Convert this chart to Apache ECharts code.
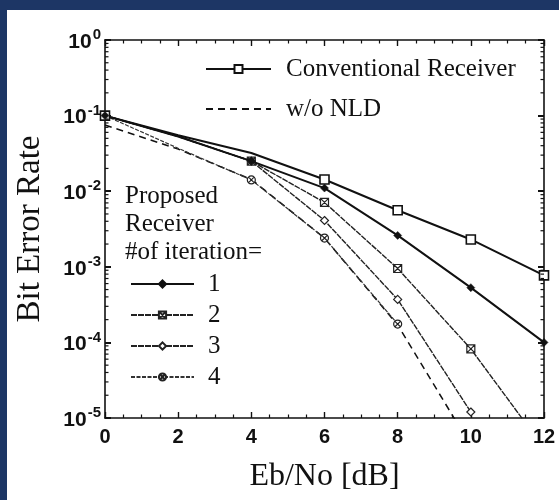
<!DOCTYPE html>
<html><head><meta charset="utf-8">
<script src="https://cdn.jsdelivr.net/npm/echarts@6/dist/echarts.min.js"></script>
<style>
html,body{margin:0;padding:0;width:559px;height:500px;overflow:hidden;background:#1d3665;}
#panel{position:absolute;left:7px;top:10px;width:552px;height:490px;background:#fff;}
#chart{position:absolute;left:0;top:0;width:559px;height:500px;}
</style></head><body>
<div id="panel"></div><div id="chart"></div>
<script>
// ---- data ----
const snrDb        = [0, 2, 4, 6, 8, 10, 12];
const conventional = [0.1, 0.055, 0.032, 0.0143, 0.0056, 0.0023, 0.00077];
const noNld        = [0.075, 0.036, 0.0143, 0.0024, 0.00017, 0.0000043, null];
const iter1        = [0.1, 0.053, 0.025, 0.011, 0.0026, 0.00053, 0.0001];
const iter2        = [0.1, 0.053, 0.025, 0.0071, 0.00095, 0.000082, 0.000004];
const iter3        = [0.1, 0.053, 0.025, 0.0041, 0.00037, 0.000012, null];
const iter4        = [0.1, 0.037, 0.0141, 0.0024, 0.000175, null, null];
const xTickLabels  = ['0', '2', '4', '6', '8', '10', '12'];
const yTickExponents = [0, -1, -2, -3, -4, -5];
const seriesNames  = ['Conventional Receiver', 'w/o NLD', '1', '2', '3', '4'];
const legendNote   = 'Proposed\nReceiver\n#of iteration=';
const xName = 'Eb/No [dB]';
const yName = 'Bit Error Rate';

const SERIF = '"Liberation Serif","Times New Roman",serif';
const SANS = '"Liberation Sans",Arial,sans-serif';
const INK = '#111';

function pts(arr, hideIdx) {
  const out = [];
  arr.forEach((v, i) => {
    if (v == null) return;
    if (hideIdx.indexOf(i) >= 0) out.push({value: [snrDb[i], v], symbol: 'none'});
    else out.push([snrDb[i], v]);
  });
  return out;
}

// log-distributed minor ticks (axis decoration)
const minorVals = [];
for (let e = -5; e < 0; e++) for (let k = 2; k <= 9; k++) minorVals.push(k * Math.pow(10, e));

const boxX = 'path://M0,0L10,0L10,10L0,10Z M0,0L10,10 M10,0L0,10';
const circX = 'path://M10,5A5,5,0,1,1,0,5A5,5,0,1,1,10,5Z M1.6,1.6L8.4,8.4 M8.4,1.6L1.6,8.4';

const axisLine = {show: true, onZero: false, lineStyle: {color: INK, width: 1.6}};

const chart = echarts.init(document.getElementById('chart'), null, {renderer: 'canvas'});
chart.setOption({
  animation: false,
  backgroundColor: 'transparent',
  grid: {left: 105, right: 15, top: 40, bottom: 82, containLabel: false, outerBoundsMode: 'none'},
  title: {
    text: legendNote, left: 125, top: 182, padding: 0,
    textStyle: {fontFamily: SERIF, fontSize: 25, fontWeight: 'normal', color: INK, lineHeight: 28}
  },
  legend: [
    {
      data: [seriesNames[0], seriesNames[1]], orient: 'vertical', left: 205, top: 56, padding: 0,
      itemWidth: 65, itemHeight: 10, itemGap: 14,
      textStyle: {fontFamily: SERIF, fontSize: 25, color: INK, lineHeight: 26, padding: [0, 0, 0, 10]},
      selectedMode: false
    },
    {
      data: [seriesNames[2], seriesNames[3], seriesNames[4], seriesNames[5]], orient: 'vertical', left: 130, top: 271, padding: 0,
      itemWidth: 63, itemHeight: 9, itemGap: 5,
      textStyle: {fontFamily: SERIF, fontSize: 25, color: INK, lineHeight: 26, padding: [0, 0, 0, 9]},
      selectedMode: false
    }
  ],
  xAxis: [
    {
      type: 'value', min: 0, max: 12, interval: 2, position: 'bottom',
      name: xName, nameLocation: 'middle', nameGap: 43,
      nameTextStyle: {fontFamily: SERIF, fontSize: 32, color: INK},
      axisLine: axisLine,
      axisTick: {inside: true, length: 6, lineStyle: {color: INK, width: 1.4}},
      minorTick: {show: true, splitNumber: 4, length: 3.5, lineStyle: {color: INK, width: 1.2}},
      axisLabel: {margin: 9, fontFamily: SANS, fontWeight: 'bold', fontSize: 20, color: INK,
        formatter: v => xTickLabels[snrDb.indexOf(v)] ?? String(v)},
      splitLine: {show: false}
    },
    {
      type: 'value', min: 0, max: 12, interval: 2, position: 'top',
      axisLine: axisLine,
      axisTick: {inside: true, length: 6, lineStyle: {color: INK, width: 1.4}},
      minorTick: {show: true, splitNumber: 4, length: 3.5, lineStyle: {color: INK, width: 1.2}},
      axisLabel: {show: false}, splitLine: {show: false}
    }
  ],
  yAxis: [
    {
      type: 'log', logBase: 10, min: 1e-5, max: 1, position: 'left',
      name: yName, nameLocation: 'middle', nameGap: 58, nameRotate: 90,
      nameTextStyle: {fontFamily: SERIF, fontSize: 33, color: INK},
      axisLine: axisLine,
      axisTick: {inside: true, length: 6, lineStyle: {color: INK, width: 2}},
      axisLabel: {
        margin: 4, color: INK,
        formatter: v => {
          const e = Math.round(Math.log10(v));
          return yTickExponents.indexOf(e) >= 0 ? '{b|10}{s|' + e + '}' : '';
        },
        rich: {
          b: {fontFamily: SANS, fontSize: 21, fontWeight: 'bold', color: INK, lineHeight: 25, verticalAlign: 'bottom'},
          s: {fontFamily: SANS, fontSize: 15, fontWeight: 'bold', color: INK, verticalAlign: 'top', padding: [0, 0, 0, 1]}
        }
      },
      splitLine: {show: false}
    },
    {
      type: 'log', logBase: 10, min: 1e-5, max: 1, position: 'right',
      axisLine: axisLine,
      axisTick: {inside: true, length: 6, lineStyle: {color: INK, width: 2}},
      axisLabel: {show: false}, splitLine: {show: false}
    }
  ],
  series: [
    {
      name: seriesNames[0], type: 'line', data: pts(conventional, [1, 2]),
      symbol: 'rect', symbolSize: 9, showAllSymbol: true,
      lineStyle: {color: INK, width: 2},
      itemStyle: {color: '#fff', borderColor: INK, borderWidth: 1.6}, z: 4
    },
    {
      name: seriesNames[1], type: 'line', data: pts(noNld, []),
      symbol: 'circle', showSymbol: false,
      lineStyle: {color: INK, width: 1.5, type: [7, 5]},
      itemStyle: {color: INK, opacity: 0}, z: 2
    },
    {
      name: seriesNames[2], type: 'line', data: pts(iter1, [1]),
      symbol: 'diamond', symbolSize: 8, showAllSymbol: true,
      lineStyle: {color: INK, width: 2},
      itemStyle: {color: INK, borderColor: INK, borderWidth: 0.5}, z: 4
    },
    {
      name: seriesNames[3], type: 'line', data: pts(iter2, [1, 6]),
      symbol: boxX, symbolSize: 8, showAllSymbol: true,
      lineStyle: {color: '#222', width: 1.4, type: [6, 1]},
      itemStyle: {color: '#fff', borderColor: '#222', borderWidth: 1.2}, z: 3
    },
    {
      name: seriesNames[4], type: 'line', data: pts(iter3, [1]),
      symbol: 'diamond', symbolSize: 8, showAllSymbol: true,
      lineStyle: {color: '#222', width: 1.4, type: [6, 1]},
      itemStyle: {color: '#fff', borderColor: '#222', borderWidth: 1.2}, z: 3
    },
    {
      name: seriesNames[5], type: 'line', data: pts(iter4, [1]),
      symbol: circX, symbolSize: 8, showAllSymbol: true,
      lineStyle: {color: '#333', width: 1.2, type: [4, 1.5]},
      itemStyle: {color: '#fff', borderColor: '#222', borderWidth: 1.2}, z: 3
    },
    {
      type: 'custom', silent: true, xAxisIndex: 0, yAxisIndex: 0, clip: false, z: 6,
      data: minorVals.map(v => [0, v]),
      renderItem: (params, api) => {
        const p = api.coord([0, api.value(1)]);
        const cs = params.coordSys;
        return {type: 'group', children: [
          {type: 'line', shape: {x1: cs.x, y1: p[1], x2: cs.x + 3.5, y2: p[1]}, style: {stroke: INK, lineWidth: 1.2}},
          {type: 'line', shape: {x1: cs.x + cs.width, y1: p[1], x2: cs.x + cs.width - 3.5, y2: p[1]}, style: {stroke: INK, lineWidth: 1.2}}
        ]};
      }
    }
  ]
});
</script>
</body></html>
